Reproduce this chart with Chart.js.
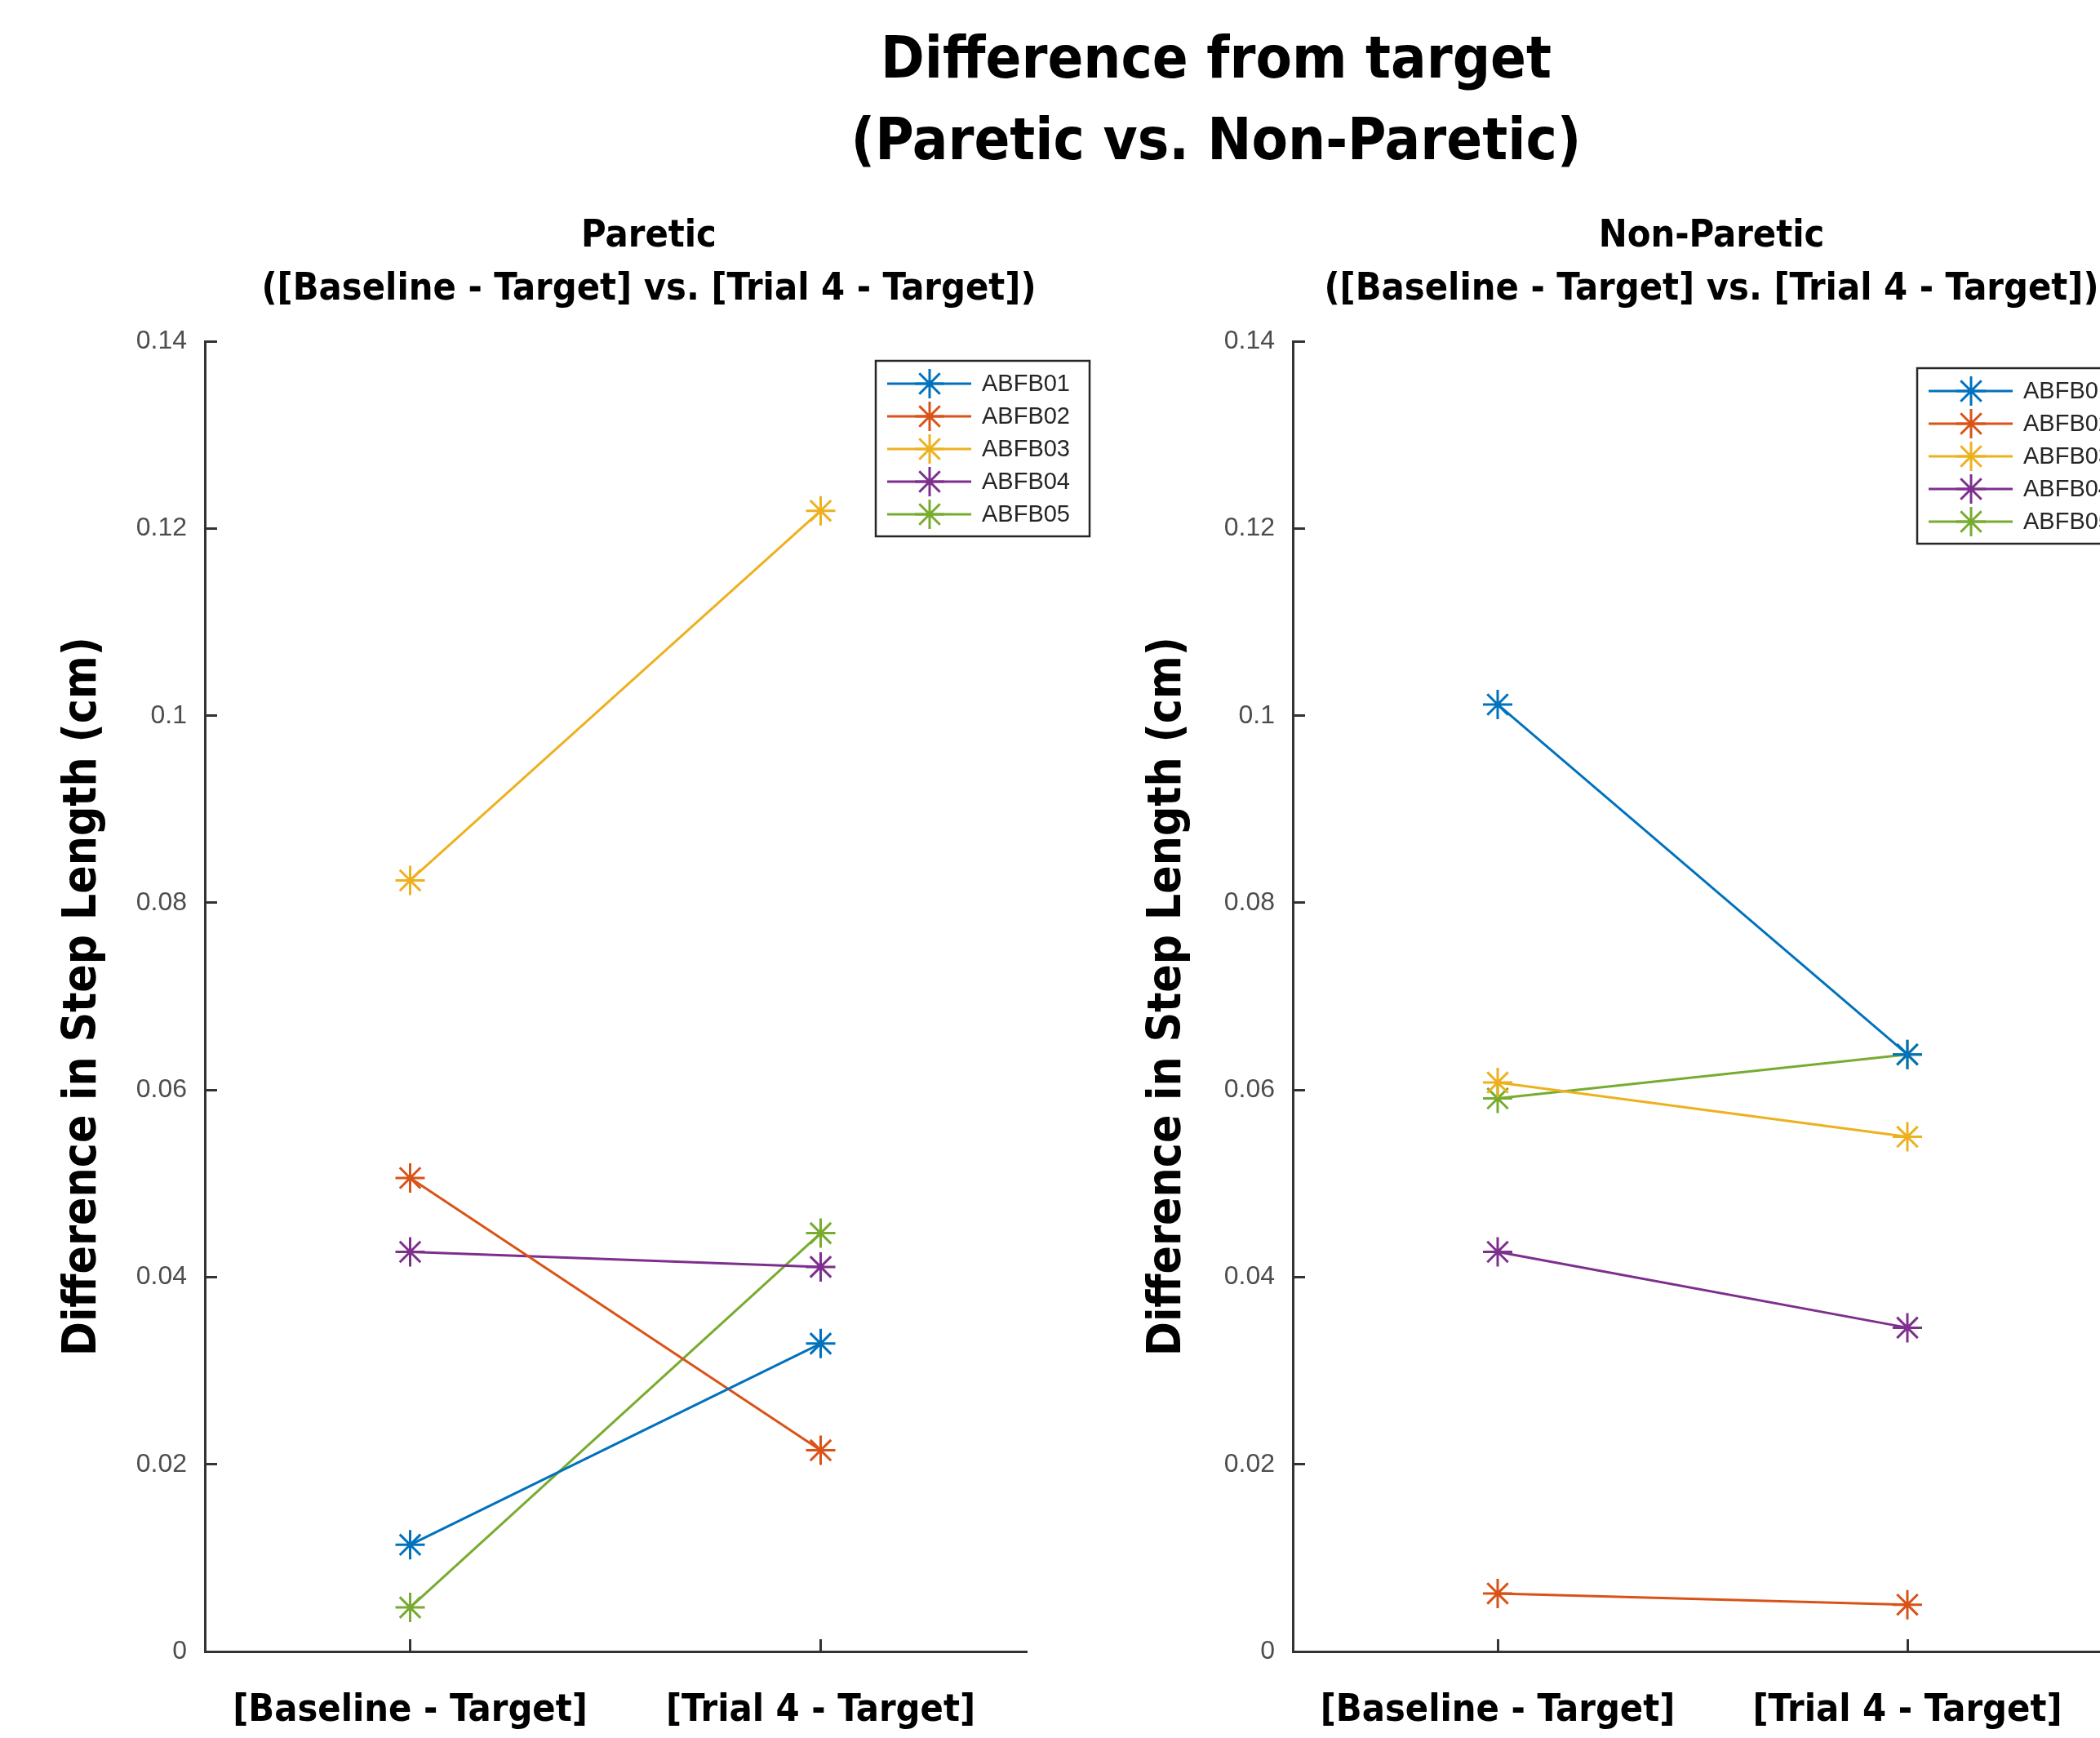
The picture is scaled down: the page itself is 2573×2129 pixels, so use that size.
<!DOCTYPE html>
<html>
<head>
<meta charset="utf-8">
<script src="https://cdn.jsdelivr.net/npm/chart.js@4/dist/chart.umd.min.js"></script>
<style>
  html, body { margin: 0; padding: 0; background: #fff; }
  body { position: relative; width: 2573px; height: 2129px; overflow: hidden; }
  #suptitle {
    position: absolute; left: 990px; width: 1000px; top: 20px;
    text-align: center; color: #000;
    font: bold 72px "DejaVu Sans Condensed", sans-serif;
    line-height: 100px; z-index: 5;
  }
  .panel { position: absolute; top: 0; }
  #panelLeft { left: 0; }
  #panelRight { left: 1370px; }
</style>
</head>
<body>
<div id="suptitle">Difference from target<br>(Paretic vs. Non-Paretic)</div>
<div class="panel" id="panelLeft"><canvas id="chartParetic" width="1590" height="2129"></canvas></div>
<div class="panel" id="panelRight"><canvas id="chartNonParetic" width="1454" height="2129"></canvas></div>
<script>
// ---- data ----
const conditions = ['[Baseline - Target]', '[Trial 4 - Target]'];
const participants = ['ABFB01', 'ABFB02', 'ABFB03', 'ABFB04', 'ABFB05'];
const yTickLabels = ['0', '0.02', '0.04', '0.06', '0.08', '0.1', '0.12', '0.14'];

// Paretic side: [baseline - target, trial 4 - target]
const pareticABFB01 = [0.0114, 0.0329];
const pareticABFB02 = [0.0506, 0.0215];
const pareticABFB03 = [0.0824, 0.1219];
const pareticABFB04 = [0.0427, 0.0411];
const pareticABFB05 = [0.0047, 0.0447];

// Non-paretic side
const nonPareticABFB01 = [0.1012, 0.0638];
const nonPareticABFB02 = [0.0062, 0.0050];
const nonPareticABFB03 = [0.0608, 0.0550];
const nonPareticABFB04 = [0.0427, 0.0346];
const nonPareticABFB05 = [0.0591, 0.0638];

const pareticSeries = [pareticABFB01, pareticABFB02, pareticABFB03, pareticABFB04, pareticABFB05];
const nonPareticSeries = [nonPareticABFB01, nonPareticABFB02, nonPareticABFB03, nonPareticABFB04, nonPareticABFB05];

// ---- styling ----
const seriesColors = ['#0072BD', '#D95319', '#EDB120', '#7E2F8E', '#77AC30'];
const NARROW = '"DejaVu Sans Condensed", sans-serif';
const HELV = '"Liberation Sans", Arial, sans-serif';
const AXIS_COLOR = '#333333';

// Boxed legend with line + marker samples, drawn inside the plot
const boxLegend = {
  id: 'boxLegend',
  afterDraw(chart, args, opts) {
    const ctx = chart.ctx;
    const { left, top, width, height, firstRow, rowHeight } = opts;
    ctx.save();
    ctx.fillStyle = '#ffffff';
    ctx.fillRect(left, top, width, height);
    ctx.lineWidth = 2.5;
    ctx.strokeStyle = '#262626';
    ctx.strokeRect(left, top, width, height);
    ctx.font = '29px ' + HELV;
    ctx.textBaseline = 'middle';
    ctx.textAlign = 'left';
    chart.data.datasets.forEach((ds, i) => {
      const y = top + firstRow + i * rowHeight;
      ctx.strokeStyle = ds.borderColor;
      ctx.lineWidth = ds.borderWidth;
      ctx.beginPath();
      ctx.moveTo(left + 14, y);
      ctx.lineTo(left + 117, y);
      ctx.stroke();
      ctx.strokeStyle = ds.borderColor;
      Chart.helpers.drawPoint(ctx, {
        pointStyle: 'star', radius: ds.pointRadius, borderWidth: ds.pointBorderWidth, rotation: 0
      }, left + 66, y);
      ctx.fillStyle = '#262626';
      ctx.fillText(ds.label, left + 130, y + 1);
    });
    ctx.restore();
  }
};

function makeDatasets(series) {
  return series.map((values, i) => ({
    label: participants[i],
    data: values,
    xAxisID: 'x',
    yAxisID: 'y',
    borderColor: seriesColors[i],
    backgroundColor: seriesColors[i],
    pointBorderColor: seriesColors[i],
    pointBackgroundColor: seriesColors[i],
    borderWidth: 3,
    pointStyle: 'star',
    pointRadius: 18,
    pointBorderWidth: 3,
    tension: 0,
    clip: false
  }));
}

function makeChart(canvasId, series, titleLine, cfg) {
  return new Chart(document.getElementById(canvasId), {
    type: 'line',
    data: { labels: conditions, datasets: makeDatasets(series) },
    plugins: [boxLegend],
    options: {
      responsive: false,
      animation: false,
      events: [],
      layout: { padding: { left: 0, right: 0, top: 0, bottom: 0 } },
      plugins: {
        legend: { display: false },
        tooltip: { enabled: false },
        title: {
          display: true,
          text: [titleLine, '([Baseline - Target] vs. [Trial 4 - Target])'],
          color: '#000',
          font: { family: NARROW, size: 46.5, weight: 'bold', lineHeight: 1.4 },
          padding: { top: 257, bottom: 31 }
        },
        boxLegend: cfg.legend
      },
      scales: {
        x: {
          type: 'category',
          offset: true,
          afterFit(s) { s.height = 106; },
          border: { display: true, color: AXIS_COLOR, width: 3 },
          grid: { drawOnChartArea: false, drawTicks: true, tickLength: -15, color: AXIS_COLOR, lineWidth: 3 },
          ticks: {
            color: '#000', padding: 60, maxRotation: 0, autoSkip: false,
            font: { family: NARROW, size: 46.5, weight: 'bold', lineHeight: 1.2 }
          }
        },
        y: {
          type: 'linear',
          position: 'left',
          min: 0,
          max: 0.14,
          afterFit(s) { s.width = cfg.yWidth; },
          border: { display: true, color: AXIS_COLOR, width: 3 },
          grid: { drawOnChartArea: false, drawTicks: true, tickLength: -15, color: AXIS_COLOR, lineWidth: 3 },
          ticks: {
            stepSize: 0.02,
            padding: 37,
            color: '#4d4d4d',
            font: { family: HELV, size: 32 },
            callback: (v) => yTickLabels[Math.round(v / 0.02)]
          },
          title: {
            display: true,
            text: 'Difference in Step Length (cm)',
            color: '#000',
            font: { family: NARROW, size: 56.5, weight: 'bold', lineHeight: 1.2 },
            padding: { top: cfg.yTitlePad, bottom: 0 }
          }
        },
        spacer: {
          type: 'linear',
          axis: 'y',
          position: 'right',
          display: true,
          afterFit(s) { s.width = cfg.rightSpace; },
          border: { display: false },
          grid: { display: false },
          ticks: { display: false }
        }
      }
    }
  });
}

makeChart('chartParetic', pareticSeries, 'Paretic', {
  yWidth: 251, yTitlePad: 68, rightSpace: 333,
  legend: { left: 1073, top: 442, width: 262, height: 215, firstRow: 28, rowHeight: 40 }
});

makeChart('chartNonParetic', nonPareticSeries, 'Non-Paretic', {
  yWidth: 214, yTitlePad: 27, rightSpace: 236,
  legend: { left: 979, top: 451, width: 262, height: 215, firstRow: 28, rowHeight: 40 }
});
</script>
</body>
</html>
